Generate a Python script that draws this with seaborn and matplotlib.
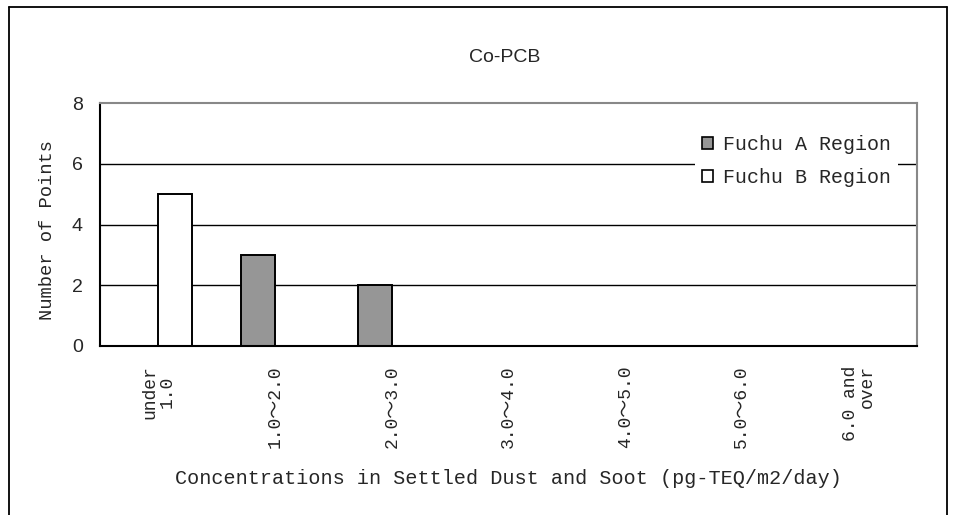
import matplotlib
matplotlib.use("Agg")
import matplotlib.pyplot as plt
from matplotlib.lines import Line2D
import pandas as pd
import seaborn as sns

# chart values
categories = ["under\n1.0", "1.0～2.0", "2.0～3.0", "3.0～4.0",
              "4.0～5.0", "5.0～6.0", "6.0 and\nover"]
region_a = [0, 3, 2, 0, 0, 0, 0]
region_b = [5, 0, 0, 0, 0, 0, 0]
series_names = ["Fuchu A Region", "Fuchu B Region"]
y_ticks = [0, 2, 4, 6, 8]

mono = ["Liberation Mono", "Noto Sans CJK JP", "DejaVu Sans"]
sans = ["Liberation Sans", "DejaVu Sans"]

df = pd.DataFrame({
    "cat": categories * 2,
    "count": region_a + region_b,
    "region": [series_names[0]] * len(categories) + [series_names[1]] * len(categories),
})

sns.set_style("white")
fig = plt.figure(figsize=(9.57, 5.15), dpi=100)
ax = fig.add_axes([100 / 957, 1 - 346 / 515, 817 / 957, 243 / 515])

sns.barplot(data=df, x="cat", y="count", hue="region", order=categories,
            hue_order=series_names, palette=["#969696", "#ffffff"],
            width=0.58, edgecolor="black", linewidth=1.4, ax=ax,
            legend=True)

ax.set_ylim(0, 8)
ax.set_xlim(-0.5, len(categories) - 0.5)
ax.set_yticks(y_ticks)
ax.set_yticklabels([str(t) for t in y_ticks], family=sans, fontsize=14)
ax.tick_params(axis="y", direction="out", length=2.5, width=1, color="black", pad=10)
for t in y_ticks[1:-1]:
    ax.axhline(t, color="black", lw=1, zorder=0)

ax.set_xticks(range(len(categories)))
ax.set_xticklabels(categories, rotation=90, family=mono, fontsize=13,
                   linespacing=1.0)
ax.tick_params(axis="x", length=0, pad=14)
ax.set_xticks([i + 0.5 for i in range(len(categories) - 1)], minor=True)
ax.tick_params(axis="x", which="minor", direction="in", length=5, color="#555555")
labels = ax.get_xticklabels()
labels[-1].set_multialignment("right")

ax.set_xlabel("Concentrations in Settled Dust and Soot (pg-TEQ/m2/day)",
              family=mono, fontsize=14.5)
ax.xaxis.set_label_coords(508 / 957, 1 - 478 / 515, transform=fig.transFigure)
ax.xaxis.label.set_va("center")
ax.set_ylabel("Number of Points", family=mono, fontsize=13.5)
ax.yaxis.set_label_coords(48 / 957, 1 - 230 / 515, transform=fig.transFigure)
ax.yaxis.label.set_va("center")

for s in ["left", "bottom"]:
    ax.spines[s].set_color("black")
    ax.spines[s].set_linewidth(1.5)
for s in ["top", "right"]:
    ax.spines[s].set_color("#888888")
    ax.spines[s].set_linewidth(1.5)

fig.text(505 / 957, 1 - 58 / 515, "Co-PCB", family=sans, fontsize=14,
         ha="center", va="center")

leg = ax.legend(loc="center left", bbox_to_anchor=(695 / 957, 1 - 161 / 515),
                bbox_transform=fig.transFigure,
                frameon=True, facecolor="white", edgecolor="none",
                framealpha=1, fancybox=False, handlelength=0.55,
                handleheight=0.55, handletextpad=0.5, labelspacing=0.7,
                borderpad=0.35, borderaxespad=0,
                prop={"family": mono, "size": 14.4})
for h in leg.legend_handles:
    h.set_edgecolor("black")
    h.set_linewidth(1.2)

# outer chart border (bottom edge falls outside the image)
for xs, ys in [((9, 9), (7, 515)), ((9, 947), (7, 7)), ((947, 947), (7, 515))]:
    fig.add_artist(Line2D([x / 957 for x in xs], [1 - y / 515 for y in ys],
                          color="black", lw=1.3))

fig.savefig("out.png", dpi=100, facecolor="white")
